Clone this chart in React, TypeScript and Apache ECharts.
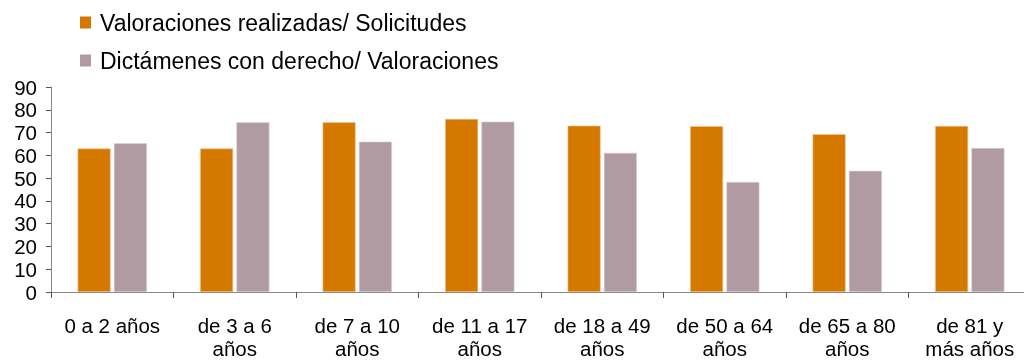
import React, { useEffect, useRef } from "react";
import * as echarts from "echarts";

const categories = [
  "0 a 2 años",
  "de 3 a 6\naños",
  "de 7 a 10\naños",
  "de 11 a 17\naños",
  "de 18 a 49\naños",
  "de 50 a 64\naños",
  "de 65 a 80\naños",
  "de 81 y\nmás años",
];
const valoracionesSolicitudes = [63, 63, 74.5, 76, 73, 72.8, 69.3, 72.9];
const dictamenesValoraciones = [65.3, 74.5, 66, 74.8, 61.1, 48.3, 53.2, 63.2];
const seriesNames = ["Valoraciones realizadas/ Solicitudes", "Dictámenes con derecho/ Valoraciones"];

const FONT = "Liberation Sans, Arial, sans-serif";

export default function App() {
  const ref = useRef<HTMLDivElement>(null);
  useEffect(() => {
    if (!ref.current) return;
    const chart = echarts.init(ref.current, undefined, { renderer: "svg" });
    chart.setOption({
      animation: false,
      textStyle: { fontFamily: FONT },
      legend: {
        orient: "vertical",
        left: 75,
        top: 6,
        itemWidth: 11,
        itemHeight: 12,
        itemGap: 15,
        icon: "rect",
        itemStyle: { borderWidth: 0 },
        textStyle: { fontSize: 23, color: "#000", fontFamily: FONT, lineHeight: 23, padding: [0, 0, 0, 4] },
        data: seriesNames,
      },
      grid: { left: 51, top: 87, width: 980, height: 206 },
      xAxis: {
        type: "category",
        data: categories,
        axisLine: { lineStyle: { color: "#888", width: 1 } },
        axisTick: { show: true, interval: 0, length: 6, lineStyle: { color: "#555" } },
        axisLabel: { interval: 0, fontSize: 20.5, color: "#000", lineHeight: 23, margin: 22, fontFamily: FONT },
      },
      yAxis: {
        type: "value",
        min: 0,
        max: 90,
        interval: 10,
        splitLine: { show: false },
        axisLine: { show: true, lineStyle: { color: "#888", width: 1 } },
        axisTick: { show: true, length: 5, lineStyle: { color: "#555" } },
        axisLabel: { fontSize: 20.5, color: "#000", margin: 14, fontFamily: FONT },
      },
      series: [
        {
          name: seriesNames[0],
          type: "bar",
          data: valoracionesSolicitudes,
          barWidth: 33,
          barGap: "10%",
          itemStyle: { color: "#D47800", borderColor: "#F0C48F", borderWidth: 0.6 },
        },
        {
          name: seriesNames[1],
          type: "bar",
          data: dictamenesValoraciones,
          barWidth: 33,
          barGap: "10%",
          itemStyle: { color: "#B09BA2", borderColor: "#DCD0D4", borderWidth: 0.6 },
        },
      ],
    });
    return () => chart.dispose();
  }, []);
  return (
    <div style={{ position: "fixed", left: 0, top: 0, width: 1024, height: 360, overflow: "hidden" }}>
      <div ref={ref} style={{ width: 1040, height: 360 }} />
    </div>
  );
}
